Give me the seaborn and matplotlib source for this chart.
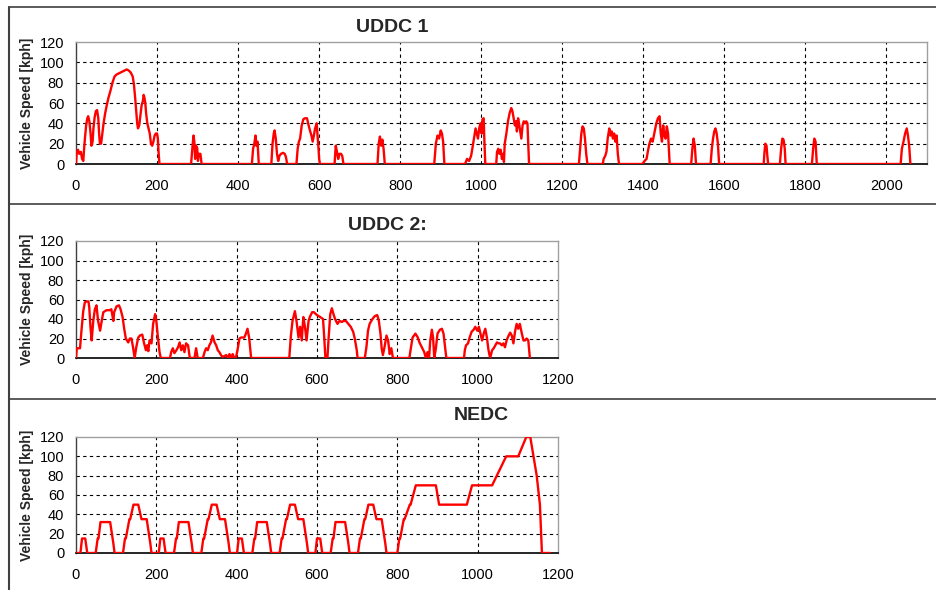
import numpy as np
import pandas as pd
import matplotlib
matplotlib.use("Agg")
import matplotlib.pyplot as plt
from matplotlib.lines import Line2D
import seaborn as sns

sns.set_style("white")
plt.rcParams['font.family'] = ['Liberation Sans', 'DejaVu Sans']

# --- data (time [s], speed [kph]) ---
uddc1_time = [0, 2, 5, 8, 12, 15, 18, 20, 22, 25, 28, 30, 33, 36, 38, 41, 43, 46, 49, 52, 55, 57, 59, 62, 65, 68, 72, 76, 80, 85,
              90, 95, 100, 105, 110, 115, 120, 125, 130, 135, 140, 143, 146, 149, 151, 153, 156, 159, 162, 165, 167, 169, 171,
              173, 176, 179, 182, 185, 188, 191, 194, 197, 200, 202, 204, 206,
              284, 287, 290, 292, 294, 296, 299, 301, 303, 307, 310,
              434, 437, 440, 443, 445, 448, 451,
              482, 485, 488, 490, 493, 496, 499, 502, 506, 511, 515, 518, 521,
              544, 547, 550, 553, 557, 561, 565, 570, 574, 578, 581, 584, 587, 590, 594, 596, 598, 600, 602,
              638, 641, 644, 647, 650, 654, 657, 660,
              744, 747, 750, 753, 756, 759, 762,
              884, 888, 892, 896, 900, 903, 906, 909,
              960, 965, 970, 975, 978, 982, 986, 989, 992, 995, 998, 1001, 1003, 1006, 1008, 1010,
              1037, 1039, 1042, 1045, 1048, 1051, 1054, 1056, 1058, 1062, 1066, 1070, 1074, 1077, 1080, 1083, 1086, 1088,
              1091, 1094, 1097, 1099, 1102, 1105, 1108, 1111, 1114, 1117, 1118,
              1241, 1244, 1247, 1250, 1253, 1256, 1259, 1262,
              1300, 1302, 1306, 1309, 1312, 1316, 1319, 1322, 1325, 1328, 1331, 1334, 1337, 1340,
              1398, 1403, 1408, 1411, 1415, 1419, 1423, 1428, 1432, 1436, 1440, 1443, 1446, 1449, 1452, 1455, 1458, 1461,
              1463, 1465,
              1518, 1521, 1524, 1527, 1530,
              1566, 1569, 1572, 1575, 1578, 1581, 1584, 1587,
              1697, 1699, 1701, 1704, 1706, 1708,
              1737, 1740, 1743, 1746, 1749, 1751,
              1816, 1819, 1822, 1825, 1828,
              2035, 2038, 2042, 2046, 2050, 2053, 2056, 2059]
uddc1_speed = [0, 12, 14, 10, 12, 5, 3, 15, 25, 38, 45, 47, 42, 30, 18, 22, 35, 46, 52, 53, 45, 30, 20, 20, 30, 40, 50, 58, 65, 72,
               80, 86, 88, 89, 90, 91, 92, 93, 92, 90, 86, 78, 65, 50, 40, 35, 38, 48, 58, 62, 68, 65, 60,
               50, 40, 35, 30, 20, 18, 22, 28, 30, 30, 25, 10, 0,
               0, 15, 28, 22, 5, 18, 16, 3, 10, 10, 0,
               0, 15, 20, 28, 18, 22, 0,
               0, 20, 30, 33, 25, 10, 3, 8, 10, 11, 10, 7, 0,
               0, 15, 22, 25, 38, 44, 45, 45, 38, 32, 28, 22, 28, 35, 40, 28, 18, 5, 0,
               0, 18, 12, 5, 10, 10, 8, 0,
               0, 20, 27, 18, 24, 15, 0,
               0, 20, 28, 25, 33, 30, 22, 0,
               0, 5, 3, 8, 15, 25, 35, 30, 25, 35, 40, 30, 44, 45, 20, 0,
               0, 12, 15, 10, 14, 5, 10, 2, 20, 30, 42, 50, 55, 52, 45, 38, 42, 32,
               45, 38, 30, 25, 38, 42, 40, 42, 40, 10, 0,
               0, 15, 30, 37, 35, 25, 10, 0,
               0, 5, 8, 12, 25, 35, 28, 32, 25, 30, 22, 28, 10, 0,
               0, 3, 5, 12, 20, 25, 22, 32, 40, 45, 47, 30, 22, 38, 28, 25, 37, 30,
               15, 0,
               0, 15, 25, 18, 0,
               0, 15, 25, 32, 35, 30, 20, 0,
               0, 12, 20, 18, 8, 0,
               0, 15, 25, 24, 15, 0,
               0, 15, 25, 22, 0,
               0, 15, 22, 30, 35, 28, 18, 0]

uddc2_time = [0, 2, 10, 14, 18, 22, 26, 31, 33, 36, 39, 43, 47, 51, 55, 60, 64, 68, 76, 84, 88, 93, 95, 101, 107, 111, 116,
              120, 124, 130, 134, 138, 142, 146, 150, 155, 159, 165, 169, 174, 177, 180, 183, 188, 192, 197, 200, 204, 208, 211,
              234, 237, 241, 245, 250, 254, 258, 262, 266, 270, 274, 279, 283, 287, 295, 299, 303, 316, 320, 324, 328, 332,
              336, 340, 345, 349, 353, 357, 361, 365, 374, 378, 382, 386, 390, 394, 398, 402, 407, 411, 419, 423, 427, 431, 436,
              531, 535, 539, 545, 549, 554, 558, 562, 566, 570, 574, 579, 582, 588, 592, 600, 608, 615, 618, 621, 626, 629,
              633, 637, 641, 645, 651, 656, 662, 666, 672, 678, 684, 690, 694, 699, 701,
              719, 723, 727, 731, 738, 744, 750, 754, 758, 761, 764, 768, 773, 777, 781, 785, 789,
              830, 834, 838, 845, 851, 855, 861, 867, 871, 875, 879, 882, 886, 889, 892, 896, 900, 906, 911, 915, 919, 922,
              966, 968, 971, 976, 980, 985, 990, 994, 999, 1003, 1007, 1011, 1015, 1019, 1023, 1027, 1031, 1036, 1040, 1044,
              1048, 1052, 1056, 1060, 1064, 1068, 1072, 1077, 1081, 1085, 1089, 1093, 1097, 1101, 1105, 1110, 1114, 1118,
              1122, 1126, 1130]
uddc2_speed = [0, 10, 10, 30, 48, 57, 58, 58, 52, 32, 18, 38, 50, 54, 38, 28, 38, 47, 49, 49, 50, 38, 47, 53, 54, 50, 42,
               30, 20, 16, 20, 20, 11, 0, 11, 21, 23, 24, 16, 8, 13, 7, 18, 15, 35, 45, 38, 21, 6, 0,
               0, 6, 10, 5, 8, 11, 16, 8, 13, 6, 15, 13, 1, 0, 0, 10, 0, 0, 6, 10, 8, 13,
               16, 23, 16, 13, 8, 6, 3, 1, 3, 0, 4, 0, 4, 0, 0, 8, 20, 21, 21, 25, 30, 21, 0,
               0, 23, 38, 48, 38, 21, 32, 18, 42, 32, 18, 38, 42, 47, 47, 44, 42, 40, 21, 0, 0, 21,
               45, 51, 45, 40, 35, 38, 37, 38, 38, 35, 32, 27, 20, 8, 0,
               0, 11, 28, 35, 40, 43, 44, 38, 25, 10, 3, 11, 23, 18, 4, 10, 0,
               0, 11, 21, 25, 21, 16, 11, 6, 0, 6, 0, 18, 29, 21, 0, 10, 25, 29, 30, 25, 11, 0,
               0, 8, 13, 15, 21, 27, 29, 32, 28, 32, 25, 18, 25, 30, 21, 8, 0, 8, 10, 13,
               16, 15, 15, 13, 15, 11, 18, 23, 26, 23, 15, 27, 35, 30, 35, 25, 18, 18,
               20, 18, 0]

nedc_time = [0, 11, 15, 23, 28, 49, 54, 56, 61, 85, 93, 96, 117, 122, 124, 133, 135, 143, 155, 163, 176, 185, 188, 195,
             206, 210, 218, 223, 244, 249, 251, 256, 280, 288, 291, 312, 317, 319, 328, 330, 338, 350, 358, 371, 380, 383, 390,
             401, 405, 413, 418, 439, 444, 446, 451, 475, 483, 486, 507, 512, 514, 523, 525, 533, 545, 553, 566, 575, 578, 585,
             596, 600, 608, 613, 634, 639, 641, 646, 670, 678, 681, 702, 707, 709, 718, 720, 728, 740, 748, 761, 770, 773, 780,
             800, 805, 807, 816, 818, 831, 833, 846, 896, 904, 973, 986, 1036, 1071, 1101, 1121, 1131, 1147, 1155, 1160, 1180]
nedc_speed = [0, 0, 15, 15, 0, 0, 15, 15, 32, 32, 10, 0, 0, 15, 15, 35, 35, 50, 50, 35, 35, 10, 0, 0,
              0, 15, 15, 0, 0, 15, 15, 32, 32, 10, 0, 0, 15, 15, 35, 35, 50, 50, 35, 35, 10, 0, 0,
              0, 15, 15, 0, 0, 15, 15, 32, 32, 10, 0, 0, 15, 15, 35, 35, 50, 50, 35, 35, 10, 0, 0,
              0, 15, 15, 0, 0, 15, 15, 32, 32, 10, 0, 0, 15, 15, 35, 35, 50, 50, 35, 35, 10, 0, 0,
              0, 15, 15, 35, 35, 50, 50, 70, 70, 50, 50, 70, 70, 100, 100, 120, 120, 80, 50, 0, 0]

titles = ["UDDC 1", "UDDC 2:", "NEDC"]
y_label = "Vehicle Speed [kph]"

W, H = 937, 590
fig = plt.figure(figsize=(W / 100, H / 100), dpi=100)


def px_axes(left, top, right, bottom):
    return fig.add_axes([left / W, 1 - bottom / H, (right - left) / W, (bottom - top) / H])


panels = [
    (px_axes(76, 42, 927, 164), uddc1_time, uddc1_speed, 2100, 2000, (392, 28)),
    (px_axes(76, 241, 558, 358), uddc2_time, uddc2_speed, 1200, 1200, (387, 226)),
    (px_axes(76, 437, 558, 553), nedc_time, nedc_speed, 1200, 1200, (481, 416)),
]

for (ax, t, v, xmax, xlast, title_pos), title in zip(panels, titles):
    df = pd.DataFrame({"t": t, "v": v})
    sns.lineplot(data=df, x="t", y="v", ax=ax, color="#ff0000", linewidth=1.7,
                 estimator=None, sort=False, zorder=3)
    ax.set_xlim(0, xmax)
    ax.set_ylim(0, 120)
    xt = np.arange(0, xlast + 1, 200)
    ax.set_xticks(xt)
    ax.set_yticks(np.arange(0, 121, 20))
    # dashed grid, interior only
    for yv in range(20, 120, 20):
        ax.axhline(yv, color="black", lw=0.8, ls=(0, (3, 3)), zorder=1)
    for xv in xt[1:]:
        if xv < xmax:
            ax.axvline(xv, color="black", lw=0.8, ls=(0, (3, 3)), zorder=1)
    for s in ["top", "right"]:
        ax.spines[s].set_color("#a0a0a0")
        ax.spines[s].set_linewidth(1.0)
    ax.spines["left"].set_color("#404040")
    ax.spines["left"].set_linewidth(1.0)
    ax.spines["bottom"].set_color("black")
    ax.spines["bottom"].set_linewidth(1.2)
    ax.tick_params(axis="y", direction="out", length=4.5, width=0.8, pad=4, labelsize=10.5, colors="black")
    ax.tick_params(axis="x", direction="out", length=2.5, width=0.8, pad=8, labelsize=10.5, colors="black")
    ax.set_xlabel("")
    ax.set_ylabel("")
    pos = ax.get_position()
    fig.text(27.5 / W, pos.y0 + pos.height / 2, y_label, fontsize=10, fontweight="bold",
             rotation=90, ha="center", va="center")
    fig.text(title_pos[0] / W, 1 - title_pos[1] / H, title, fontsize=14, fontweight="bold",
             ha="center", va="center")

# panel frames
for yb in [7, 204, 399]:
    fig.add_artist(Line2D([9 / W, 1], [1 - yb / H, 1 - yb / H], transform=fig.transFigure,
                          color="#404040", lw=1.2))
fig.add_artist(Line2D([9 / W, 9 / W], [1 - 7 / H, 0], transform=fig.transFigure, color="#404040", lw=1.5))

fig.savefig("out.png", dpi=100)
